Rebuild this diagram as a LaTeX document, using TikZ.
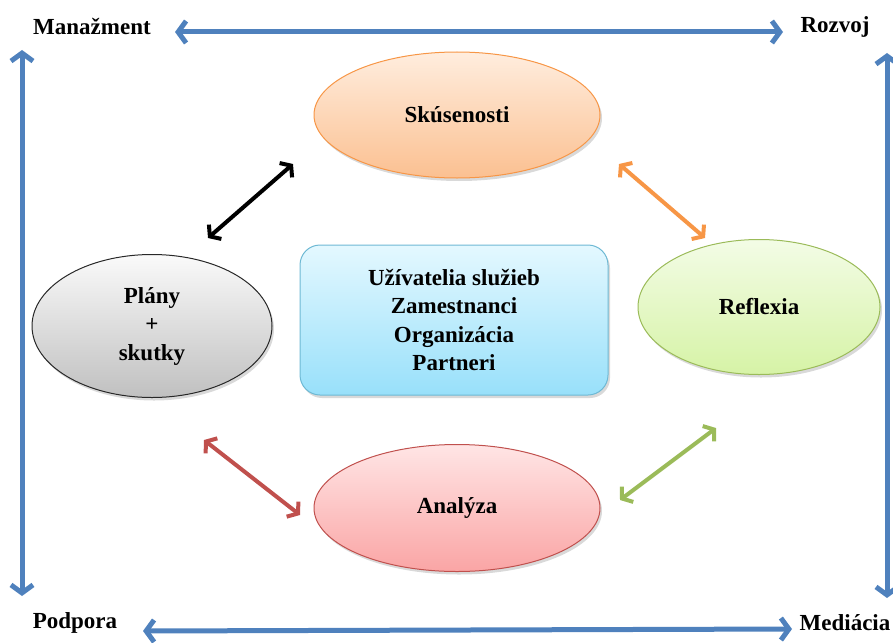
\documentclass[tikz,border=0pt]{standalone}
\usepackage{fontspec}
\setmainfont{Liberation Serif}
\usetikzlibrary{shapes.geometric,arrows.meta,shadows}
\definecolor{linkblue}{RGB}{79,129,189}
\definecolor{expline}{RGB}{247,150,70}
\definecolor{exptop}{RGB}{255,237,222}
\definecolor{expbot}{RGB}{251,192,145}
\definecolor{planline}{RGB}{40,40,40}
\definecolor{plantop}{RGB}{250,250,250}
\definecolor{planbot}{RGB}{192,192,192}
\definecolor{refline}{RGB}{155,187,89}
\definecolor{reftop}{RGB}{243,252,230}
\definecolor{refbot}{RGB}{214,243,166}
\definecolor{analine}{RGB}{192,80,77}
\definecolor{anatop}{RGB}{255,229,229}
\definecolor{anabot}{RGB}{250,165,165}
\definecolor{coreline}{RGB}{110,185,212}
\definecolor{coretop}{RGB}{228,248,255}
\definecolor{corebot}{RGB}{152,224,250}

\tikzset{
  phase/.style={ellipse, draw, line width=1pt, align=center,
    drop shadow={shadow xshift=2pt, shadow yshift=-3pt, opacity=0.3}},
  corner/.style={inner sep=1pt},
  axis/.style={linkblue, line width=5pt,
    {Straight Barb[length=8pt,width=22pt,line width=5pt]}-{Straight Barb[length=8pt,width=22pt,line width=5pt]}},
  link/.style={line width=4pt,
    {Straight Barb[length=7pt,width=19pt,line width=4pt]}-{Straight Barb[length=7pt,width=19pt,line width=4pt]}}
}

\begin{document}
\begin{tikzpicture}[x=1pt, y=-1pt, font=\fontsize{23}{28.5}\selectfont\bfseries]
  \useasboundingbox (0,0) rectangle (893,642);

  % Corner labels
  \node[corner] (mgmt) at (92,27) {Manažment};
  \node[corner] (dev) at (835,27) {Rozvoj};
  \node[corner] (supp) at (75,623) {Podpora};
  \node[corner] (med) at (845,623) {Mediácia};

  % Outer frame arrows
  \coordinate (topL) at (175,32);
  \coordinate (topR) at (783,32);
  \coordinate (botL) at (143,631);
  \coordinate (botR) at (792,629);
  \coordinate (leftT) at (22,50);
  \coordinate (leftB) at (22,596);
  \coordinate (rightT) at (887,53);
  \coordinate (rightB) at (887,598);
  \draw[axis] (topL) -- (topR);
  \draw[axis] (botL) -- (botR);
  \draw[axis] (leftT) -- (leftB);
  \draw[axis] (rightT) -- (rightB);

  % Phases
  \node[phase, draw=expline, top color=exptop, bottom color=expbot,
        minimum width=286, minimum height=126] (exp) at (457,115) {Skúsenosti};
  \node[phase, draw=planline, top color=plantop, bottom color=planbot,
        minimum width=240, minimum height=143] (plan) at (152,326) {Plány\\+\\skutky};
  \node[phase, draw=refline, top color=reftop, bottom color=refbot,
        minimum width=242, minimum height=135] (refl) at (759,307) {Reflexia};
  \node[phase, draw=analine, top color=anatop, bottom color=anabot,
        minimum width=286, minimum height=127] (anal) at (457,508) {Analýza};

  % Centre
  \node[draw=coreline, line width=1pt, rounded corners=20pt, top color=coretop,
        bottom color=corebot, minimum width=308, minimum height=150, align=center,
        drop shadow={shadow xshift=2pt, shadow yshift=-3pt, opacity=0.3}]
        (core) at (454,320) {Užívatelia služieb\\Zamestnanci\\Organizácia\\Partneri};

  % Links between phases
  \coordinate (planUp) at (208,238);
  \coordinate (expL) at (293,164);
  \coordinate (expR) at (619,164);
  \coordinate (reflUp) at (705,238);
  \coordinate (reflLo) at (716,428);
  \coordinate (analR) at (620,500);
  \coordinate (analL) at (300,515);
  \coordinate (planLo) at (204,440);
  \draw[link, black] (planUp) -- (expL);
  \draw[link, expline] (expR) -- (reflUp);
  \draw[link, refline] (reflLo) -- (analR);
  \draw[link, analine] (analL) -- (planLo);
\end{tikzpicture}
\end{document}
